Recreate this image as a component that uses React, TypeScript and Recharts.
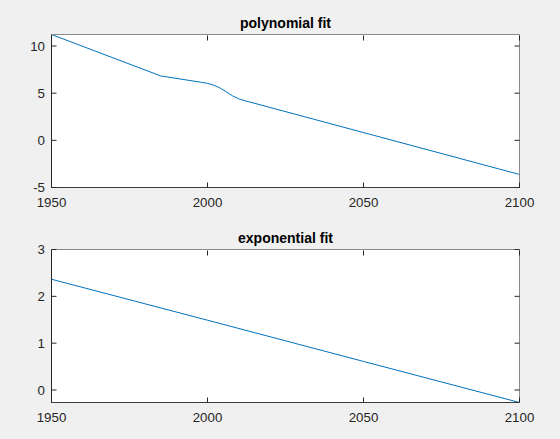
import React from "react";
import { LineChart, Line, XAxis, YAxis, CartesianGrid } from "recharts";

const xTicks = [1950, 2000, 2050, 2100];

const polyTitle = "polynomial fit";
const polyYears = [1950, 1985, 1998, 2000, 2002, 2004, 2006, 2008, 2010, 2012, 2100];
const polyValues = [11.22, 6.83, 6.15, 6.04, 5.85, 5.55, 5.15, 4.72, 4.4, 4.2, -3.62];
const polyYTicks = [-5, 0, 5, 10];
const polyYDomain = [-5, 11.22];

const expTitle = "exponential fit";
const expYears = [1950, 2000, 2050, 2100];
const expValues = [2.365, 1.49, 0.61, -0.267];
const expYTicks = [0, 1, 2, 3];
const expYDomain = [-0.267, 3];

const FONT = "'Liberation Sans', Arial, Helvetica, sans-serif";
const TEXT = "#262626";
const DARK = "#262626";
const LIGHT = "#8a8a8a";

const BottomTick = (props: any) => {
  const { x, y, payload } = props;
  return (
    <g>
      <line x1={x} x2={x} y1={y} y2={y - 5} stroke={DARK} strokeWidth={1} />
      <text x={x} y={y + 19.5} textAnchor="middle" fill={TEXT} fontSize={13.3} fontFamily={FONT}>
        {payload.value}
      </text>
    </g>
  );
};

const TopTick = (props: any) => {
  const { x, y } = props;
  return <line x1={x} x2={x} y1={y + 1} y2={y + 6} stroke={DARK} strokeWidth={1} />;
};

const LeftTick = (props: any) => {
  const { x, y, payload } = props;
  return (
    <g>
      <line x1={x} x2={x + 5} y1={y} y2={y} stroke={DARK} strokeWidth={1} />
      <text x={x - 6.5} y={y + 4.6} textAnchor="end" fill={TEXT} fontSize={13.3} fontFamily={FONT}>
        {payload.value}
      </text>
    </g>
  );
};

const RightTick = (props: any) => {
  const { x, y } = props;
  return <line x1={x} x2={x - 5} y1={y} y2={y} stroke={DARK} strokeWidth={1} />;
};

type PanelProps = {
  title: string;
  years: number[];
  values: number[];
  yTicks: number[];
  yDomain: number[];
  top: number;
  height: number;
  plotTop: number;
};

const PLOT_H = 153;
const LEFT = 51.5;
const RIGHT = 40.5;

function Panel({ title, years, values, yTicks, yDomain, top, height, plotTop }: PanelProps) {
  const data = years.map((year, i) => ({ year, value: values[i] }));
  const xAxisH = height - plotTop - PLOT_H;
  const centerX = LEFT + (560 - LEFT - RIGHT) / 2;
  return (
    <div style={{ position: "absolute", left: 0, top, width: 560, height }}>
      <LineChart
        width={560}
        height={height}
        data={data}
        margin={{ top: plotTop - 1, right: RIGHT - 1, bottom: 0, left: 0 }}
      >
        <CartesianGrid fill="#ffffff" horizontal={false} vertical={false} stroke="none" />
        <XAxis
          xAxisId="main"
          dataKey="year"
          type="number"
          domain={[1950, 2100]}
          ticks={xTicks}
          interval={0}
          allowDataOverflow
          height={xAxisH}
          tickSize={0}
          tickMargin={0}
          tick={<BottomTick />}
          tickLine={false}
          axisLine={{ stroke: "#3a3a3a", strokeWidth: 1 }}
        />
        <XAxis
          xAxisId="top"
          dataKey="year"
          orientation="top"
          type="number"
          domain={[1950, 2100]}
          ticks={xTicks}
          interval={0}
          allowDataOverflow
          height={1}
          tickSize={0}
          tickMargin={0}
          tick={<TopTick />}
          tickLine={false}
          axisLine={{ stroke: LIGHT, strokeWidth: 1 }}
        />
        <YAxis
          yAxisId="main"
          type="number"
          domain={yDomain}
          ticks={yTicks}
          interval={0}
          allowDataOverflow
          width={LEFT}
          tickSize={0}
          tickMargin={0}
          tick={<LeftTick />}
          tickLine={false}
          axisLine={{ stroke: DARK, strokeWidth: 1 }}
        />
        <YAxis
          yAxisId="right"
          orientation="right"
          type="number"
          domain={yDomain}
          ticks={yTicks}
          interval={0}
          allowDataOverflow
          width={1}
          tickSize={0}
          tickMargin={0}
          tick={<RightTick />}
          tickLine={false}
          axisLine={{ stroke: LIGHT, strokeWidth: 1 }}
        />
        <Line
          xAxisId="top"
          yAxisId="right"
          type="linear"
          dataKey="value"
          stroke="none"
          strokeWidth={0}
          dot={false}
          activeDot={false}
          legendType="none"
          isAnimationActive={false}
        />
        <Line
          xAxisId="main"
          yAxisId="main"
          type="linear"
          dataKey="value"
          stroke="#0072BD"
          strokeWidth={1}
          dot={false}
          activeDot={false}
          isAnimationActive={false}
        />
      </LineChart>
      <svg
        width={560}
        height={plotTop}
        style={{ position: "absolute", left: 0, top: 0, pointerEvents: "none" }}
      >
        <text
          x={centerX}
          y={plotTop - 7}
          textAnchor="middle"
          fontSize={14}
          fontWeight="bold"
          fontFamily={FONT}
          fill="#000000"
        >
          {title}
        </text>
      </svg>
    </div>
  );
}

export default function App() {
  return (
    <div
      style={{
        position: "absolute",
        left: 0,
        top: 0,
        width: 560,
        height: 439,
        background: "#f0f0f0",
        overflow: "hidden",
      }}
    >
      <Panel
        title={polyTitle}
        years={polyYears}
        values={polyValues}
        yTicks={polyYTicks}
        yDomain={polyYDomain}
        top={0}
        height={220}
        plotTop={34.5}
      />
      <Panel
        title={expTitle}
        years={expYears}
        values={expValues}
        yTicks={expYTicks}
        yDomain={expYDomain}
        top={220}
        height={219}
        plotTop={29.5}
      />
    </div>
  );
}
